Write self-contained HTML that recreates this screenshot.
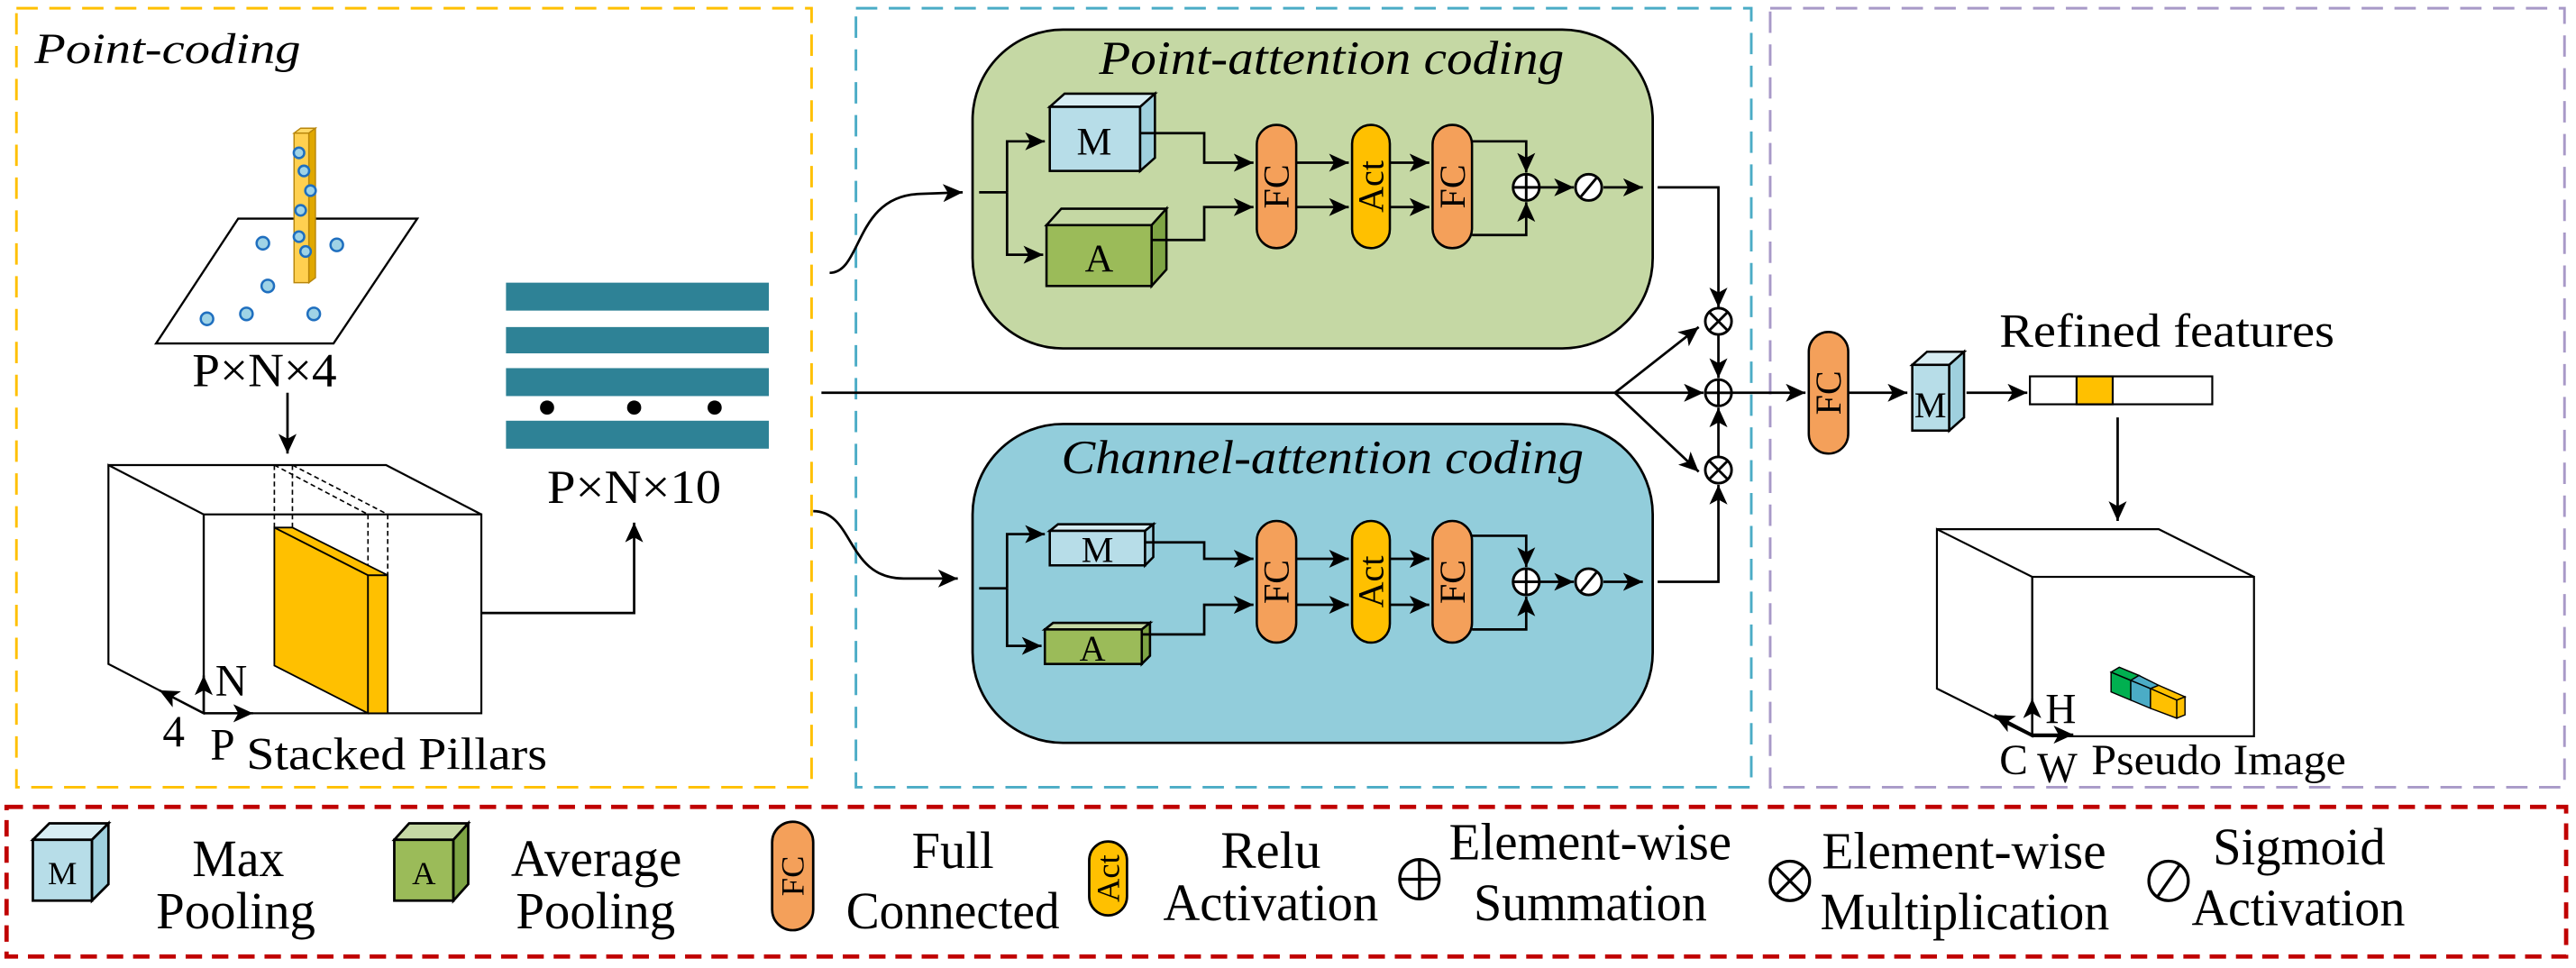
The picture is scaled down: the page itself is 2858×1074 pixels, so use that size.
<!DOCTYPE html>
<html><head><meta charset="utf-8"><style>
html,body{margin:0;padding:0;background:#fff;}
svg{display:block;}
svg text{font-family:'Liberation Serif','DejaVu Serif','Times New Roman',serif !important;fill:#000;}
</style></head><body>
<svg width="2858" height="1074" viewBox="0 0 1568 589" preserveAspectRatio="none" xmlns="http://www.w3.org/2000/svg" font-family="'Liberation Serif', 'DejaVu Serif', serif" style="font-family:'Liberation Serif','DejaVu Serif',serif">
<defs>
<marker id="ah" markerUnits="userSpaceOnUse" markerWidth="13" markerHeight="11" refX="12" refY="5.5" orient="auto">
<path d="M0,0 L12,5.5 L0,11 L3,5.5 Z" fill="#000"/>
</marker>
</defs>
<rect width="1568" height="589" fill="#fff"/>

<rect x="10" y="5" width="484" height="474" fill="none" stroke="#ffc000" stroke-width="1.6" stroke-dasharray="13,7"/>
<rect x="521" y="5" width="545" height="474" fill="none" stroke="#4bacc6" stroke-width="1.6" stroke-dasharray="13,7"/>
<rect x="1077.5" y="5" width="483.5" height="474" fill="none" stroke="#a899c8" stroke-width="1.6" stroke-dasharray="13,7"/>
<rect x="4" y="491" width="1558" height="91" fill="none" stroke="#c00000" stroke-width="2.6" stroke-dasharray="10,6"/>

<text x="21" y="38.5" font-size="26" font-style="italic" textLength="162" lengthAdjust="spacingAndGlyphs">Point-coding</text>
<polygon points="145,133 254,133 203,209 95,209" fill="#fff" stroke="#000" stroke-width="1.3"/>
<polygon points="179,81 183,78 192,78 188,81" fill="#ffd966" stroke="#b8860b" stroke-width="0.8"/>
<rect x="179" y="81" width="9" height="91" fill="#ffd050" stroke="#b8860b" stroke-width="0.8"/>
<polygon points="188,81 192,78 192,169 188,172" fill="#e0a800" stroke="#b8860b" stroke-width="0.8"/>
<g fill="#9fd3e6" stroke="#1f6fbf" stroke-width="1.4">
<circle cx="182" cy="93" r="3.2"/><circle cx="185" cy="104" r="3.2"/><circle cx="189" cy="116" r="3.2"/>
<circle cx="183" cy="128" r="3.2"/><circle cx="182" cy="144" r="3.2"/><circle cx="186" cy="153" r="3.2"/>
<circle cx="160" cy="148" r="3.8"/><circle cx="205" cy="149" r="3.8"/><circle cx="163" cy="174" r="3.8"/>
<circle cx="126" cy="194" r="3.8"/><circle cx="150" cy="191" r="3.8"/><circle cx="191" cy="191" r="3.8"/>
</g>
<text x="117" y="235" font-size="29" textLength="88" lengthAdjust="spacingAndGlyphs">P×N×4</text>
<path d="M175 239 V276" stroke="#000" stroke-width="1.5" fill="none" marker-end="url(#ah)"/>

<g fill="none" stroke="#000" stroke-width="1.2">
<polygon points="66,283 124,313 124,434 66,404"/>
<polyline points="66,283 235,283 293,313"/>
<rect x="124" y="313" width="169" height="121"/>
</g>
<g stroke="#000" stroke-width="0.9" stroke-dasharray="3,2" fill="none">
<path d="M167 283 V321 M178 283 V321 M167 283 L224 313 M178 283 L236 313 M224 313 V350 M236 313 V350"/>
</g>
<g fill="#ffc000" stroke="#000" stroke-width="1">
<polygon points="167,321 224,350 224,434 167,405"/>
<rect x="224" y="350" width="12" height="84"/>
<polygon points="167,321 178,321 236,350 224,350"/>
</g>
<g stroke="#000" stroke-width="1.4" fill="none">
<path d="M124 434 V411" marker-end="url(#ah)"/>
<path d="M124 434 H154" marker-end="url(#ah)"/>
<path d="M124 434 L97 420" marker-end="url(#ah)"/>
</g>
<text x="131" y="423" font-size="27">N</text>
<text x="99" y="454" font-size="27">4</text>
<text x="128" y="462" font-size="27">P</text>
<text x="150" y="468" font-size="28" textLength="183" lengthAdjust="spacingAndGlyphs">Stacked Pillars</text>
<path d="M293 373 H386 V318" stroke="#000" stroke-width="1.5" fill="none" marker-end="url(#ah)"/>

<g fill="#2e8296">
<rect x="308" y="172" width="160" height="17"/>
<rect x="308" y="199" width="160" height="16"/>
<rect x="308" y="224" width="160" height="17"/>
<rect x="308" y="256" width="160" height="17"/>
</g>
<circle cx="333" cy="248" r="4.3"/><circle cx="386" cy="248" r="4.3"/><circle cx="435" cy="248" r="4.3"/>
<text x="333" y="306" font-size="29" textLength="106" lengthAdjust="spacingAndGlyphs">P×N×10</text>

<rect x="592" y="18" width="414" height="194" rx="55" ry="55" fill="#c5d8a4" stroke="#000" stroke-width="1.5"/>
<rect x="592" y="258" width="414" height="194" rx="55" ry="55" fill="#92cddb" stroke="#000" stroke-width="1.5"/>
<text x="669" y="45" font-size="29" font-style="italic" textLength="283" lengthAdjust="spacingAndGlyphs">Point-attention coding</text>
<text x="646" y="288" font-size="29" font-style="italic" textLength="318" lengthAdjust="spacingAndGlyphs">Channel-attention coding</text>

<g stroke="#000" stroke-width="1.4">
<polygon points="639,65 648,57 703,57 694,65" fill="#d7edf3"/>
<rect x="639" y="65" width="55" height="39" fill="#b7dde8"/>
<polygon points="694,65 703,57 703,96 694,104" fill="#9fd0de"/>
<polygon points="637,137 646,127 710,127 701,137" fill="#c5d8a4"/>
<rect x="637" y="137" width="64" height="37" fill="#9bbb59"/>
<polygon points="701,137 710,127 710,164 701,174" fill="#7ea444"/>
<polygon points="639,323 644,319 702,319 697,323" fill="#d7edf3"/>
<rect x="639" y="323" width="58" height="21" fill="#b7dde8"/>
<polygon points="697,323 702,319 702,339 697,344" fill="#9fd0de"/>
<polygon points="636,383 641,379 700,379 695,383" fill="#c5d8a4"/>
<rect x="636" y="383" width="59" height="21" fill="#9bbb59"/>
<polygon points="695,383 700,379 700,399 695,404" fill="#7ea444"/>
</g>
<text x="666" y="94" font-size="24" text-anchor="middle">M</text>
<text x="669" y="165" font-size="24" text-anchor="middle">A</text>
<text x="668" y="342" font-size="22" text-anchor="middle">M</text>
<text x="665" y="402" font-size="22" text-anchor="middle">A</text>

<g stroke="#000" stroke-width="1.4">
<rect x="765" y="76" width="24" height="75" rx="12" fill="#f4a05a"/>
<rect x="823" y="76" width="23" height="75" rx="11.5" fill="#ffc000"/>
<rect x="872" y="76" width="24" height="75" rx="12" fill="#f4a05a"/>
<rect x="765" y="317" width="24" height="74" rx="12" fill="#f4a05a"/>
<rect x="823" y="317" width="23" height="74" rx="11.5" fill="#ffc000"/>
<rect x="872" y="317" width="24" height="74" rx="12" fill="#f4a05a"/>
<rect x="1101" y="202" width="24" height="74" rx="12" fill="#f4a05a"/>
</g>
<g font-size="22" text-anchor="middle" dominant-baseline="central">
<text transform="translate(777,113.5) rotate(-90)">FC</text>
<text transform="translate(834.5,113.5) rotate(-90)">Act</text>
<text transform="translate(884,113.5) rotate(-90)">FC</text>
<text transform="translate(777,354) rotate(-90)">FC</text>
<text transform="translate(834.5,354) rotate(-90)">Act</text>
<text transform="translate(884,354) rotate(-90)">FC</text>
<text transform="translate(1113,239) rotate(-90)">FC</text>
</g>

<g stroke="#000" stroke-width="1.5" fill="none">
<path d="M505 166 C525 166 520 119 560 118 L586 117" marker-end="url(#ah)"/>
<path d="M495 311 C520 311 515 352 550 352 L583 352" marker-end="url(#ah)"/>
<path d="M596 117 H613"/>
<path d="M613 117 V86 H636" marker-end="url(#ah)"/>
<path d="M613 117 V155 H635" marker-end="url(#ah)"/>
<path d="M694 81 H733 V99 H763" marker-end="url(#ah)"/>
<path d="M701 146 H733 V126 H763" marker-end="url(#ah)"/>
<path d="M789 99 H821" marker-end="url(#ah)"/><path d="M789 126 H821" marker-end="url(#ah)"/>
<path d="M846 99 H870" marker-end="url(#ah)"/><path d="M846 126 H870" marker-end="url(#ah)"/>
<path d="M896 86 H929 V105" marker-end="url(#ah)"/>
<path d="M896 143 H929 V123" marker-end="url(#ah)"/>
<path d="M937 114 H958" marker-end="url(#ah)"/>
<path d="M976 114 H1000" marker-end="url(#ah)"/>
<path d="M1009 114 H1046 V187" marker-end="url(#ah)"/>

<path d="M596 358 H613"/>
<path d="M613 358 V325 H636" marker-end="url(#ah)"/>
<path d="M613 358 V393 H634" marker-end="url(#ah)"/>
<path d="M697 330 H733 V340 H763" marker-end="url(#ah)"/>
<path d="M695 386 H733 V368 H763" marker-end="url(#ah)"/>
<path d="M789 340 H821" marker-end="url(#ah)"/><path d="M789 368 H821" marker-end="url(#ah)"/>
<path d="M846 340 H870" marker-end="url(#ah)"/><path d="M846 368 H870" marker-end="url(#ah)"/>
<path d="M896 326 H929 V345" marker-end="url(#ah)"/>
<path d="M896 383 H929 V363" marker-end="url(#ah)"/>
<path d="M937 354 H958" marker-end="url(#ah)"/>
<path d="M976 354 H1000" marker-end="url(#ah)"/>
<path d="M1009 354 H1046 V295" marker-end="url(#ah)"/>

<path d="M500 239 H983"/>
<path d="M983 239 L1034 199" marker-end="url(#ah)"/>
<path d="M983 239 L1034 287" marker-end="url(#ah)"/>
<path d="M983 239 H1037" marker-end="url(#ah)"/>
<path d="M1046 204 V230" marker-end="url(#ah)"/>
<path d="M1046 278 V248" marker-end="url(#ah)"/>
<path d="M1054 239 H1099" marker-end="url(#ah)"/>
<path d="M1125 239 H1161" marker-end="url(#ah)"/>
<path d="M1197 239 H1234" marker-end="url(#ah)"/>
<path d="M1289 254 V317" marker-end="url(#ah)"/>
</g>

<g stroke="#000" stroke-width="1.6" fill="#fff">
<circle cx="929" cy="114" r="8"/><path d="M921 114 H937 M929 106 V122" fill="none"/>
<circle cx="929" cy="354" r="8"/><path d="M921 354 H937 M929 346 V362" fill="none"/>
<circle cx="967" cy="114" r="8"/><path d="M962 120 L972 108" fill="none"/>
<circle cx="967" cy="354" r="8"/><path d="M962 360 L972 348" fill="none"/>
<circle cx="1046" cy="195.5" r="8"/><path d="M1040.3 189.8 L1051.7 201.2 M1051.7 189.8 L1040.3 201.2" fill="none"/>
<circle cx="1046" cy="239" r="8"/><path d="M1038 239 H1054 M1046 231 V247" fill="none"/>
<circle cx="1046" cy="286" r="8"/><path d="M1040.3 280.3 L1051.7 291.7 M1051.7 280.3 L1040.3 291.7" fill="none"/>
</g>

<g stroke="#000" stroke-width="1.4">
<polygon points="1164,222 1173,214 1195.5,214 1186.5,222" fill="#d7edf3"/>
<rect x="1164" y="222" width="22.5" height="40" fill="#b7dde8"/>
<polygon points="1186.5,222 1195.5,214 1195.5,254 1186.5,262" fill="#9fd0de"/>
</g>
<text x="1175" y="254" font-size="22" text-anchor="middle">M</text>
<text x="1217" y="211" font-size="29" textLength="204" lengthAdjust="spacingAndGlyphs">Refined features</text>
<rect x="1235.6" y="229" width="111" height="17" fill="#fff" stroke="#000" stroke-width="1.2"/>
<rect x="1264" y="229" width="22" height="17" fill="#ffc000" stroke="#000" stroke-width="1.2"/>
<g fill="none" stroke="#000" stroke-width="1.2">
<polygon points="1179,322 1237,351 1237,448 1179,419"/>
<polyline points="1179,322 1314,322 1372,351"/>
<rect x="1237" y="351" width="135" height="97"/>
</g>
<g stroke="#000" stroke-width="0.8">
<polygon points="1285,409 1290,406 1302,411 1297,414" fill="#00b050"/>
<polygon points="1285,409 1297,414 1297,426 1285,421" fill="#00b050"/>
<polygon points="1297,414 1302,411 1314,417 1309,419" fill="#4bacc6"/>
<polygon points="1297,414 1309,419 1309,431 1297,426" fill="#4bacc6"/>
<polygon points="1309,419 1314,417 1330,424 1325,426" fill="#ffc000"/>
<polygon points="1309,419 1325,426 1325,437 1309,431" fill="#ffc000"/>
<polygon points="1325,426 1330,424 1330,435 1325,437" fill="#ffc000"/>
</g>
<g stroke="#000" stroke-width="1.4" fill="none">
<path d="M1237 447 V425" marker-end="url(#ah)"/>
<path d="M1237 447 H1262" marker-end="url(#ah)"/>
<path d="M1237 447 L1214 435" marker-end="url(#ah)"/>
</g>
<text x="1245" y="440" font-size="26">H</text>
<text x="1217" y="471" font-size="26">C</text>
<text x="1240" y="476" font-size="26">W</text>
<text x="1273" y="471" font-size="26" textLength="155" lengthAdjust="spacingAndGlyphs">Pseudo Image</text>

<g stroke="#000" stroke-width="1.5">
<polygon points="20,511 30,501 66,501 56,511" fill="#d7edf3"/>
<rect x="20" y="511" width="36" height="37" fill="#b7dde8"/>
<polygon points="56,511 66,501 66,538 56,548" fill="#9fd0de"/>
<polygon points="240,511 249,501 285,501 276,511" fill="#c5d8a4"/>
<rect x="240" y="511" width="36" height="37" fill="#9bbb59"/>
<polygon points="276,511 285,501 285,538 276,548" fill="#7ea444"/>
<rect x="470" y="500" width="25" height="66" rx="12.5" fill="#f4a05a"/>
<rect x="663" y="512" width="23" height="45" rx="11.5" fill="#ffc000"/>
</g>
<text x="38" y="538" font-size="20" text-anchor="middle">M</text>
<text x="258" y="538" font-size="20" text-anchor="middle">A</text>
<g font-size="20" text-anchor="middle" dominant-baseline="central">
<text transform="translate(482.5,533) rotate(-90)">FC</text>
<text transform="translate(674.5,534.5) rotate(-90)">Act</text>
</g>
<g stroke="#000" stroke-width="1.8" fill="none">
<circle cx="864" cy="535" r="12"/><path d="M852 535 H876 M864 523 V547"/>
<circle cx="1089.5" cy="536" r="12"/><path d="M1081 527.5 L1098 544.5 M1098 527.5 L1081 544.5"/>
<circle cx="1320" cy="536" r="12"/><path d="M1313 546 L1327 526"/>
</g>
<g font-size="32">
<text x="117" y="533" textLength="56" lengthAdjust="spacingAndGlyphs">Max</text>
<text x="95" y="565" textLength="97" lengthAdjust="spacingAndGlyphs">Pooling</text>
<text x="311" y="533" textLength="104" lengthAdjust="spacingAndGlyphs">Average</text>
<text x="314" y="565" textLength="97" lengthAdjust="spacingAndGlyphs">Pooling</text>
<text x="555" y="528" textLength="50" lengthAdjust="spacingAndGlyphs">Full</text>
<text x="515" y="565" textLength="130" lengthAdjust="spacingAndGlyphs">Connected</text>
<text x="743" y="528" textLength="61" lengthAdjust="spacingAndGlyphs">Relu</text>
<text x="708" y="560" textLength="131" lengthAdjust="spacingAndGlyphs">Activation</text>
<text x="882" y="523" textLength="172" lengthAdjust="spacingAndGlyphs">Element-wise</text>
<text x="897" y="560" textLength="142" lengthAdjust="spacingAndGlyphs">Summation</text>
<text x="1109" y="528.5" textLength="173" lengthAdjust="spacingAndGlyphs">Element-wise</text>
<text x="1108" y="565.5" textLength="176" lengthAdjust="spacingAndGlyphs">Multiplication</text>
<text x="1347" y="526" textLength="105" lengthAdjust="spacingAndGlyphs">Sigmoid</text>
<text x="1334" y="563" textLength="130" lengthAdjust="spacingAndGlyphs">Activation</text>
</g>
</svg>
</body></html>
